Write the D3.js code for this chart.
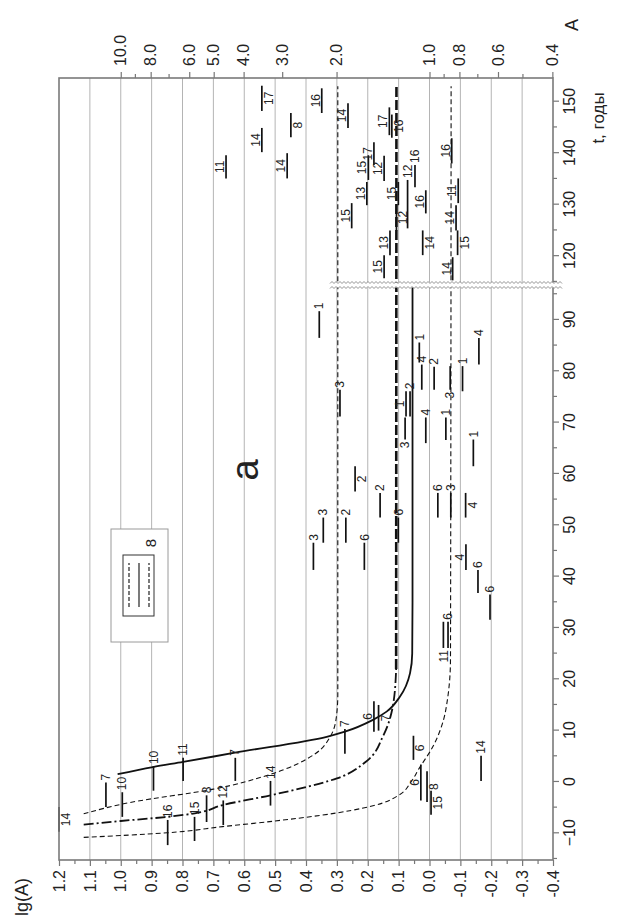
<!DOCTYPE html>
<html>
<head>
<meta charset="utf-8">
<script src="https://cdn.jsdelivr.net/npm/d3@7"></script>
<style>
  body { margin: 0; background: #fff; }
  text { font-family: Arial, "Liberation Sans", sans-serif; }
</style>
</head>
<body>
<div id="chart"></div>
<script>
// ---- data ----
var tTicksLow = [-10, 0, 10, 20, 30, 40, 50, 60, 70, 80, 90];
var tMinorLow = [-15, -5, 5, 15, 25, 35, 45, 55, 65, 75, 85, 95];
var tTicksHigh = [120, 130, 140, 150];
var tMinorHigh = [115, 125, 135, 145];
var lgTicks = [1.2, 1.1, 1.0, 0.9, 0.8, 0.7, 0.6, 0.5, 0.4, 0.3, 0.2, 0.1, 0.0, -0.1, -0.2, -0.3, -0.4];
var lgMinor = [1.15, 1.05, 0.95, 0.85, 0.75, 0.65, 0.55, 0.45, 0.35, 0.25, 0.15, 0.05, -0.05, -0.15, -0.25, -0.35];
var aTicks = [10, 8, 6, 5, 4, 3, 2, 1, 0.8, 0.6, 0.4];
var aMinor = [9, 7, 0.9, 0.7, 0.5];

// curves: [t, lg(A)]
var curveSolid = [[1.5, 1.01], [2.9, 0.896], [3.9, 0.798], [5.7, 0.63], [8.8, 0.333], [9.8, 0.274],
  [12.1, 0.183], [13.7, 0.139], [16.6, 0.096], [21.2, 0.063], [25, 0.056], [35, 0.055], [96.8, 0.055]];
var curveUpper = [[-6.2, 1.12], [-4, 0.97], [-1.4, 0.70], [1.4, 0.52], [5.5, 0.37], [9, 0.32],
  [12.5, 0.302], [17, 0.297], [153, 0.297]];
var curveDashDot = [[-8.3, 1.12], [-7.6, 1.0], [-6.8, 0.85], [-6.1, 0.76], [-4.5, 0.67], [-2.6, 0.515],
  [-1, 0.40], [0.7, 0.30], [4, 0.205], [9, 0.15], [15, 0.118], [22, 0.108]];
var plateauDashDot = [[22, 0.108], [153, 0.107]];
var curveLower = [[-10.8, 1.12], [-9.9, 0.85], [-8.7, 0.67], [-7.6, 0.5], [-6.5, 0.352], [-4.6, 0.18],
  [-2.6, 0.10], [0, 0.06], [2.5, 0.035], [7, -0.012], [12, -0.045], [16, -0.058], [24, -0.068], [153, -0.07]];

// observations: [t start, t end, lg(A), source]
var segments = [
  [148.2, 153.1, 0.543, "17"], [147.8, 152.6, 0.349, "16"], [144.9, 149.7, 0.264, "14"],
  [143.1, 147.8, 0.449, "8"], [140.2, 144.9, 0.543, "14"], [135.1, 139.6, 0.659, "11"],
  [135.1, 140.0, 0.461, "14"], [143.5, 148.9, 0.130, "17"], [143.0, 147.5, 0.122, "16"],
  [137.7, 142.1, 0.180, "17"], [134.8, 139.6, 0.198, "15"], [129.9, 134.4, 0.203, "13"],
  [134.6, 139.5, 0.147, "12"], [125.4, 130.3, 0.252, "15"], [129.9, 134.4, 0.101, "15"],
  [125.4, 134.8, 0.071, "12"], [125.0, 130.0, 0.107, "12"], [133.4, 137.7, 0.047, "16"],
  [128.3, 132.8, 0.012, "16"], [120.2, 125.0, 0.022, "14"], [120.2, 125.0, 0.128, "13"],
  [115.7, 120.2, 0.147, "15"], [138.0, 142.9, -0.072, "16"], [130.3, 135.1, -0.093, "11"],
  [125.0, 129.9, -0.086, "14"], [120.2, 125.0, -0.091, "15"], [115.3, 119.8, -0.075, "14"],
  [86.5, 91.7, 0.357, "1"], [71.2, 76.4, 0.290, "3"], [81.7, 85.6, 0.033, "1"],
  [76.4, 81.3, 0.025, "4"], [76.4, 80.9, -0.015, "2"], [71.2, 76.1, 0.063, "2"],
  [71.2, 76.1, 0.076, "1"], [66.7, 71.0, 0.079, "3"], [66.0, 71.0, 0.012, "4"],
  [66.6, 71.0, -0.053, "1"], [76.4, 81.0, -0.067, "3"], [76.1, 81.0, -0.107, "1"],
  [61.5, 66.7, -0.142, "1"], [81.3, 86.5, -0.160, "4"], [56.6, 61.5, 0.241, "2"],
  [51.5, 56.3, 0.160, "2"], [46.6, 51.5, 0.101, "6"], [51.5, 56.3, -0.027, "6"],
  [51.5, 56.3, -0.069, "3"], [51.5, 56.3, -0.117, "4"], [41.3, 46.6, 0.376, "3"],
  [46.6, 51.5, 0.344, "3"], [46.6, 51.5, 0.271, "2"], [41.3, 46.6, 0.211, "6"],
  [41.3, 46.3, -0.118, "4"], [36.8, 41.3, -0.157, "6"], [31.6, 36.5, -0.196, "6"],
  [26.1, 31.2, -0.045, "11"], [26.1, 31.2, -0.060, "6"], [9.8, 15.7, 0.180, "6"],
  [10.0, 15.0, 0.165, "7"], [5.5, 10.3, 0.274, "7"], [4.3, 9.0, 0.052, "6"],
  [-3.6, 3.4, 0.028, "6"], [-3.9, 2.1, 0.008, "8"], [-6.4, -1.7, -0.005, "15"],
  [0.2, 5.1, -0.167, "14"], [-9.7, -4.9, 1.2, "14"], [-4.9, -0.1, 1.048, "7"],
  [-6.8, -2.0, 0.995, "10"], [-1.7, 3.1, 0.894, "10"], [0.2, 4.7, 0.798, "11"],
  [0.2, 4.7, 0.629, "7"], [-12.3, -7.4, 0.848, "16"], [-11.5, -6.8, 0.761, "15"],
  [-7.8, -2.6, 0.722, "8"], [-8.4, -3.6, 0.668, "12"], [-4.6, 0.2, 0.515, "14"]
];
// where each source number sits: e = after the end, s = before the start, a = above, b = below
var labelSide = [
  "b", "a", "a", "b", "a", "a", "a", "a", "b", "a", "a", "a", "a", "a", "a", "e", "b", "e",
  "a", "b", "a", "a", "a", "a", "a", "b", "a",
  "e", "e", "e", "e", "e", "e", "a", "s", "e", "e", "s", "e", "e", "e", "b", "e", "e", "e",
  "e", "b", "e", "e", "e", "e", "a", "e", "e", "s", "e", "a", "b", "e", "b", "a", "b", "b",
  "e", "b", "e", "e", "e", "e", "e", "e", "e", "e", "e", "e"
];

// ---- layout (chart drawn lying on its side, then turned) ----
var W = 782, H = 494;
var svg = d3.select("#chart").append("svg")
  .attr("width", 629)
  .attr("height", 921);

var g = svg.append("g")
  .attr("transform", "translate(59,860) rotate(-90)");

var xLo = d3.scaleLinear().domain([-15.2, 96.8]).range([0, 575]);
var xHi = d3.scaleLinear().domain([114.4, 154.6]).range([575, W]);
function x(t) { return t < 105 ? xLo(t) : xHi(t); }
var y = d3.scaleLinear().domain([-0.4, 1.2]).range([H, 0]);
var aScale = d3.scaleLog().domain([Math.pow(10, -0.4), Math.pow(10, 1.2)]).range([H, 0]);

// grid
g.selectAll("line.grid")
  .data(lgTicks.slice(1, -1))
  .enter().append("line")
  .attr("class", "grid")
  .attr("x1", 0).attr("x2", W)
  .attr("y1", function(d) { return y(d); })
  .attr("y2", function(d) { return y(d); })
  .attr("stroke", "#b4b4b4")
  .attr("stroke-width", 1);

// axes
function styleAxis(sel, size) {
  sel.select(".domain").remove();
  sel.selectAll(".tick line").attr("stroke", "#777").attr("stroke-width", 1.2);
  sel.selectAll("text").attr("font-size", size).attr("fill", "#222");
}

var fmt = function(d) { return d3.format(".1f")(d).replace("\u2212", "-"); };

g.append("g").attr("transform", "translate(0," + H + ")")
  .call(d3.axisBottom(xLo).tickValues(tTicksLow).tickSize(6).tickPadding(5))
  .call(styleAxis, 16);
g.append("g").attr("transform", "translate(0," + H + ")")
  .call(d3.axisBottom(xLo).tickValues(tMinorLow).tickSize(4).tickFormat(""))
  .call(styleAxis, 16);
g.append("g").attr("transform", "translate(0," + H + ")")
  .call(d3.axisBottom(xHi).tickValues(tTicksHigh).tickSize(6).tickPadding(5))
  .call(styleAxis, 16);
g.append("g").attr("transform", "translate(0," + H + ")")
  .call(d3.axisBottom(xHi).tickValues(tMinorHigh).tickSize(4).tickFormat(""))
  .call(styleAxis, 16);

g.append("g")
  .call(d3.axisLeft(y).tickValues(lgTicks).tickSize(6).tickPadding(4).tickFormat(fmt))
  .call(styleAxis, 16);
g.append("g")
  .call(d3.axisLeft(y).tickValues(lgMinor).tickSize(4).tickFormat(""))
  .call(styleAxis, 16);

g.append("g").attr("transform", "translate(" + W + ",0)")
  .call(d3.axisRight(aScale).tickValues(aTicks).tickSize(6).tickPadding(6).tickFormat(d3.format(".1f")))
  .call(styleAxis, 16);
g.append("g").attr("transform", "translate(" + W + ",0)")
  .call(d3.axisRight(aScale).tickValues(aMinor).tickSize(4).tickFormat(""))
  .call(styleAxis, 16);

// legend box
var lg = g.append("g");
lg.append("rect").attr("x", 218).attr("y", 52).attr("width", 113).attr("height", 57)
  .attr("fill", "#fff").attr("stroke", "#9a9a9a").attr("stroke-width", 1);
lg.append("rect").attr("x", 244).attr("y", 64).attr("width", 61).attr("height", 31)
  .attr("fill", "#fff").attr("stroke", "#333").attr("stroke-width", 1);
[[70, "4,2"], [80, null], [90, "4,2"]].forEach(function(p) {
  lg.append("line").attr("x1", 253).attr("x2", 297).attr("y1", p[0]).attr("y2", p[0])
    .attr("stroke", "#222").attr("stroke-width", 1.2)
    .attr("stroke-dasharray", p[1]);
});
lg.append("text").attr("x", 317).attr("y", 92).attr("dy", "0.35em")
  .attr("text-anchor", "middle").attr("font-size", 15).attr("fill", "#222").text("8");

// curves
var line = d3.line()
  .x(function(d) { return x(d[0]); })
  .y(function(d) { return y(d[1]); })
  .curve(d3.curveMonotoneX);

g.append("path").attr("d", line(curveUpper)).attr("fill", "none")
  .attr("stroke", "#111").attr("stroke-width", 1.1).attr("stroke-dasharray", "5,3");
g.append("path").attr("d", line(curveLower)).attr("fill", "none")
  .attr("stroke", "#111").attr("stroke-width", 1.1).attr("stroke-dasharray", "5,3");
g.append("path").attr("d", line(curveDashDot)).attr("fill", "none")
  .attr("stroke", "#111").attr("stroke-width", 1.8).attr("stroke-dasharray", "10,3,2,3");
g.append("path").attr("d", line(plateauDashDot)).attr("fill", "none")
  .attr("stroke", "#111").attr("stroke-width", 2.6).attr("stroke-dasharray", "10,3");
g.append("path").attr("d", line(curveSolid)).attr("fill", "none")
  .attr("stroke", "#111").attr("stroke-width", 1.8);

// observation segments
g.selectAll("line.seg")
  .data(segments)
  .enter().append("line")
  .attr("class", "seg")
  .attr("x1", function(d) { return x(d[0]); })
  .attr("x2", function(d) { return x(d[1]); })
  .attr("y1", function(d) { return y(d[2]); })
  .attr("y2", function(d) { return y(d[2]); })
  .attr("stroke", "#111")
  .attr("stroke-width", 1.7);

g.selectAll("text.src")
  .data(segments)
  .enter().append("text")
  .attr("class", "src")
  .attr("font-size", 12)
  .attr("fill", "#222")
  .attr("x", function(d, i) {
    var s = labelSide[i];
    if (s == "e") return x(d[1]) + 2;
    if (s == "s") return x(d[0]) - 2;
    return (x(d[0]) + x(d[1])) / 2;
  })
  .attr("y", function(d, i) {
    var s = labelSide[i];
    if (s == "a") return y(d[2]) - 2;
    if (s == "b") return y(d[2]) + 2;
    return y(d[2]);
  })
  .attr("dy", function(d, i) {
    var s = labelSide[i];
    if (s == "a") return "0";
    if (s == "b") return "0.75em";
    return "0.35em";
  })
  .attr("text-anchor", function(d, i) {
    var s = labelSide[i];
    if (s == "e") return "start";
    if (s == "s") return "end";
    return "middle";
  })
  .text(function(d) { return d[3]; });

// frame
g.append("rect").attr("x", 0).attr("y", 0).attr("width", W).attr("height", H)
  .attr("fill", "none").attr("stroke", "#7a7a7a").attr("stroke-width", 1.6);

// axis break
var bx = xLo(96.8);
var zig = function(off) {
  var pts = [];
  for (var v = 271, k = 0; v <= 503; v += 2, k++) pts.push([bx + off + (k % 2 ? 1 : -1), v]);
  return d3.line()(pts);
};
g.append("rect").attr("x", bx - 2.5).attr("y", 271).attr("width", 5).attr("height", 232).attr("fill", "#fff");
g.append("path").attr("d", zig(-2.5)).attr("fill", "none").attr("stroke", "#888").attr("stroke-width", 0.9);
g.append("path").attr("d", zig(2.5)).attr("fill", "none").attr("stroke", "#888").attr("stroke-width", 0.9);

// titles
g.append("text").attr("x", -37).attr("y", -37).attr("dy", "0.35em").attr("text-anchor", "middle")
  .attr("font-size", 18).attr("fill", "#222").text("lg(A)");
g.append("text").attr("x", 835).attr("y", 513).attr("dy", "0.35em").attr("text-anchor", "middle")
  .attr("font-size", 18).attr("fill", "#222").text("A");
g.append("text").attr("x", 742).attr("y", 539).attr("dy", "0.35em").attr("text-anchor", "middle")
  .attr("font-size", 17).attr("fill", "#222").text("t, годы");
g.append("text").attr("x", 390).attr("y", 186).attr("dy", "0.35em").attr("text-anchor", "middle")
  .attr("font-size", 38).attr("fill", "#222").text("а");
</script>
</body>
</html>
